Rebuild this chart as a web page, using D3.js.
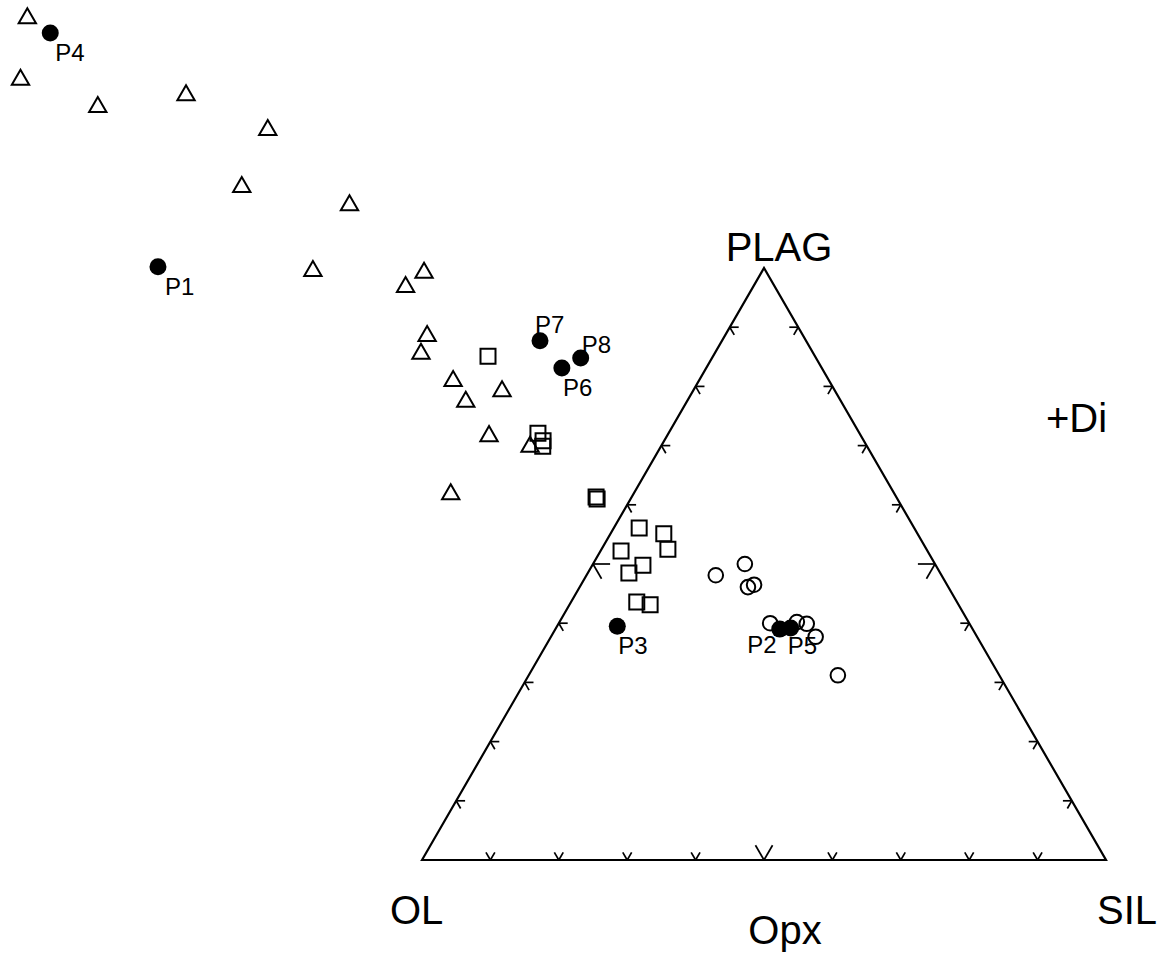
<!DOCTYPE html>
<html>
<head>
<meta charset="utf-8">
<script src="https://cdn.jsdelivr.net/npm/d3@7"></script>
<style>
body { margin: 0; background: #fff; }
svg { display: block; font-family: "Liberation Sans", Arial, sans-serif; }
</style>
</head>
<body>
<svg id="plotSvg"></svg>
<script>
// compositions as [OL, PLAG, SIL] (projected from Di, so some fall outside)
var triangleData = [
  [86.6, 142.2, -128.8], [92.8, 131.8, -124.6], [83.8, 127.2, -111.0],
  [69.9, 129.2, -99.1], [60.9, 123.3, -84.2], [69.5, 113.7, -83.2],
  [55.3, 110.6, -65.9], [66.2, 99.5, -65.7], [54.0, 96.8, -50.8],
  [50.1, 99.2, -49.3], [55.0, 88.5, -43.5], [57.4, 85.5, -42.9],
  [55.0, 80.9, -35.9], [54.9, 77.4, -32.3], [48.7, 79.2, -27.9],
  [54.4, 71.6, -26.0], [49.3, 69.8, -19.1], [64.9, 61.8, -26.7]
];
var squareData = [
  [47.8, 85.1, -32.9], [47.0, 72.1, -19.1], [46.9, 70.8, -17.7],
  [47.4, 69.9, -17.3], [43.9, 61.3, -5.2], [43.9, 61.0, -4.9],
  [40.2, 56.1, 3.7], [37.1, 55.1, 7.8], [37.8, 52.5, 9.7],
  [44.8, 52.2, 3.0], [42.8, 49.8, 7.4], [45.5, 48.5, 6.0],
  [46.8, 43.6, 9.6], [45.1, 43.1, 11.8]
];
var circleData = [
  [33.0, 48.1, 18.9], [27.8, 50.0, 22.2], [29.3, 46.1, 24.6],
  [28.2, 46.5, 25.3], [29.1, 40.0, 30.9], [25.1, 40.2, 34.7],
  [23.8, 39.9, 36.3], [23.6, 37.7, 38.7], [23.6, 31.2, 45.2]
];
var sampleNames = ["P4", "P1", "P7", "P8", "P6", "P3", "P2", "P5"];
var sampleData = [
  [84.5, 139.7, -124.2], [88.5, 100.2, -88.7], [38.9, 87.7, -26.6],
  [34.4, 84.8, -19.2], [38.0, 83.1, -21.1], [51.7, 39.5, 8.8],
  [28.2, 39.0, 32.8], [26.5, 39.2, 34.3]
];
var tickSteps = [10, 20, 30, 40, 50, 60, 70, 80, 90];

var width = 1170, height = 954;
var svg = d3.select("#plotSvg").attr("width", width).attr("height", height);

// cartesian: horizontal = SIL + PLAG/2, vertical = PLAG
var x = d3.scaleLinear().domain([0, 100]).range([422, 1106]);
var y = d3.scaleLinear().domain([0, 100]).range([860, 268]);

function px(d) {
  var s = d[0] + d[1] + d[2];
  return x((d[2] + d[1] / 2) / s * 100);
}
function py(d) {
  var s = d[0] + d[1] + d[2];
  return y(d[1] / s * 100);
}

var line = d3.line().x(px).y(py);

// frame
svg.append("path")
  .attr("d", line([[100, 0, 0], [0, 100, 0], [0, 0, 100]]) + "Z")
  .attr("fill", "none")
  .attr("stroke", "#000")
  .attr("stroke-width", 2.2)
  .attr("stroke-linejoin", "miter");

// ticks: two stubs along grid directions
var ticks = [];
tickSteps.forEach(function(t) {
  var L = t == 50 ? 2.5 : 1.3;
  var b = [100 - t, 0, t], l = [100 - t, t, 0], r = [0, 100 - t, t];
  ticks.push([b, [100 - t - L, L, t]], [b, [100 - t, L, t - L]]);
  ticks.push([l, [100 - t - L, t, L]], [l, [100 - t, t - L, L]]);
  ticks.push([r, [L, 100 - t, t - L]], [r, [L, 100 - t - L, t]]);
});
svg.append("g").selectAll("path")
  .data(ticks)
  .enter().append("path")
  .attr("d", line)
  .attr("fill", "none")
  .attr("stroke", "#000")
  .attr("stroke-width", 1.7);

var symTri = d3.symbol().type(d3.symbolTriangle).size(130);
var symSq = d3.symbol().type(d3.symbolSquare).size(225);

svg.append("g").selectAll("path")
  .data(triangleData)
  .enter().append("path")
  .attr("d", symTri)
  .attr("transform", function(d) { return "translate(" + px(d) + "," + py(d) + ")"; })
  .attr("fill", "none")
  .attr("stroke", "#000")
  .attr("stroke-width", 2);

svg.append("g").selectAll("path")
  .data(squareData)
  .enter().append("path")
  .attr("d", symSq)
  .attr("transform", function(d) { return "translate(" + px(d) + "," + py(d) + ")"; })
  .attr("fill", "none")
  .attr("stroke", "#000")
  .attr("stroke-width", 2);

svg.append("g").selectAll("circle")
  .data(circleData)
  .enter().append("circle")
  .attr("cx", px)
  .attr("cy", py)
  .attr("r", 7.3)
  .attr("fill", "none")
  .attr("stroke", "#000")
  .attr("stroke-width", 2);

svg.append("g").selectAll("circle")
  .data(sampleData)
  .enter().append("circle")
  .attr("cx", px)
  .attr("cy", py)
  .attr("r", 8.5)
  .attr("fill", "#000");

// label placement per sample
var labelOffset = {
  P4: [5, 28, "start"], P1: [7, 28, "start"], P7: [-5, -8, "start"],
  P8: [1, -5, "start"], P6: [1, 28, "start"], P3: [1, 28, "start"],
  P2: [-3, 24, "end"], P5: [-3, 26, "start"]
};
svg.append("g")
  .attr("font-size", 24)
  .selectAll("text")
  .data(sampleData)
  .enter().append("text")
  .attr("x", function(d, i) { return px(d) + labelOffset[sampleNames[i]][0]; })
  .attr("y", function(d, i) { return py(d) + labelOffset[sampleNames[i]][1]; })
  .attr("text-anchor", function(d, i) { return labelOffset[sampleNames[i]][2]; })
  .text(function(d, i) { return sampleNames[i]; });

// apex and axis labels
var axisText = svg.append("g").attr("font-size", 40);
axisText.append("text").attr("x", x(50) + 15).attr("y", y(100) - 7)
  .attr("text-anchor", "middle").text("PLAG");
axisText.append("text").attr("x", x(0) - 32).attr("y", y(0) + 64).text("OL");
axisText.append("text").attr("x", x(100) - 9).attr("y", y(0) + 64).text("SIL");
axisText.append("text").attr("x", x(50) + 21).attr("y", y(0) + 84)
  .attr("text-anchor", "middle").text("Opx");
axisText.append("text").attr("x", 1046).attr("y", 432).text("+Di");
</script>
</body>
</html>
